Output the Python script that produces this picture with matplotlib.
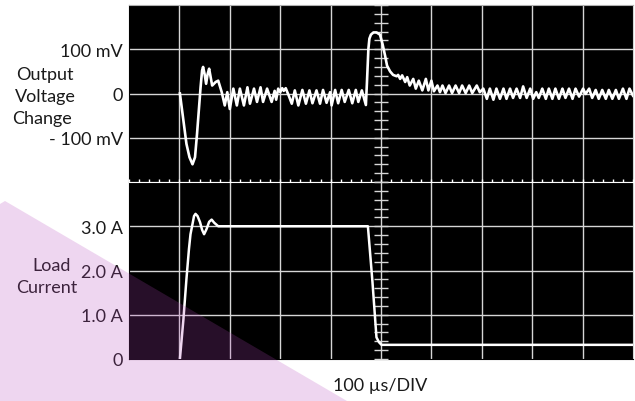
import numpy as np
import matplotlib
matplotlib.use('Agg')
import matplotlib.pyplot as plt
from matplotlib.patches import Polygon

plt.rcParams['font.family'] = ['Lato', 'DejaVu Sans']

# ---- data (time in us, 100 us/div) ----
# output voltage change, mV
t_v = [101, 108, 114, 120, 126, 131, 135, 139, 142, 145, 147, 150, 153, 156, 159, 162, 165,
       172, 177, 180, 184, 190, 195, 200, 207, 214, 220, 228, 235, 240, 248, 254, 261, 266, 274,
       283, 289, 292, 296, 300, 304, 307, 311, 317, 323, 329, 336, 344, 351, 358, 364, 372, 379,
       385, 392, 399, 402, 409, 415, 422, 428, 436, 443, 450, 455, 462, 470, 472, 475, 477, 480,
       485, 491, 498, 503, 508, 512, 518, 524, 531, 534, 538, 542, 548, 552, 557, 564, 569, 575,
       582, 589, 594, 600, 605, 612, 617, 622, 628, 635, 641, 648, 655, 661, 668, 675, 681, 690,
       696, 703, 710, 716, 723, 729, 736, 743, 749, 756, 762, 769, 776, 782, 789, 796, 802, 808,
       813, 820, 827, 833, 840, 846, 853, 860, 866, 873, 880, 886, 893, 901, 906, 913, 919, 926,
       932, 939, 946, 952, 959, 966, 972, 980, 987, 993, 1000]
v_mv = [0, -61, -114, -144, -160, -144, -91, -31, 14, 52, 60, 44, 22, 44, 56, 37, 18,
        26, 29, 18, 3, -27, 3, -35, 11, -27, 11, -27, 14, -23, 11, -19, 14, -19, 11,
        -19, 6, -14, 11, 3, 12, 6, 12, -5, -23, 7, -27, 8, -23, 7, -22, 7, -23,
        8, -21, 3, -27, 8, -22, 8, -19, 8, -22, 8, -19, 7, -26, 22, 101, 124, 133,
        138, 138, 133, 112, 86, 63, 50, 42, 39, 42, 33, 41, 26, 37, 18, 33, 11, 29,
        7, 33, 7, 29, 5, 18, 3, 18, 1, 18, 1, 18, 1, 18, 1, 18, 1, 18,
        3, 11, -12, 11, -14, 11, -12, 11, -12, 11, -10, 11, -10, 16, -10, 11, -12, 3,
        -10, 11, -12, 11, -12, 11, -12, 11, -10, 11, -12, 11, -7, 11, -1, 11, -10, 8,
        -12, 8, -12, 8, -12, 8, -12, 11, -12, 11, -5]

# load current, A
t_i = [101, 108, 114, 119, 122, 126, 129, 132, 136, 141, 145, 149, 154, 159, 164, 169, 177,
       474, 483, 491, 496, 501, 514, 1000]
i_a = [0, 0.9, 1.81, 2.49, 2.82, 3.05, 3.23, 3.28, 3.23, 3.09, 2.92, 2.82, 2.94, 3.1, 3.15, 3.08, 3.0,
       3.0, 1.75, 0.49, 0.38, 0.32, 0.32, 0.32]

x_grid = [100, 200, 300, 400, 500, 600, 700, 800, 900]
v_grid = [-100, 0, 100]
v_labels = ['- 100 mV', '0', '100 mV']
i_grid = [1, 2, 3]
i_ticks = [0, 1, 2, 3]
i_labels = ['0', '1.0 A', '2.0 A', '3.0 A']

GRID = '#d6d6d6'
TXT = '#1a1a1a'
W, H = 635, 402

fig = plt.figure(figsize=(W / 100, H / 100), dpi=100)
left, right = 129 / W, 633 / W
top, mid, bottom = 1 - 6 / H, 1 - 183 / H, 1 - 360 / H
ax_v = fig.add_axes([left, mid, right - left, top - mid])
ax_i = fig.add_axes([left, bottom, right - left, mid - bottom])

for ax in (ax_v, ax_i):
    ax.set_facecolor('black')
    ax.set_xlim(0, 1000)
    ax.set_xticks([])
    for x in x_grid:
        ax.axvline(x, color=GRID, lw=1.0, zorder=1)
    for s in ax.spines.values():
        s.set_color('black')
    ax.spines['right'].set_color(GRID)
    ax.tick_params(axis='y', length=0, pad=4.5, labelsize=13, labelcolor=TXT)

ax_v.set_ylim(-200, 200)
for y in v_grid:
    ax_v.axhline(y, color=GRID, lw=1.0, zorder=1)
ax_v.set_yticks(v_grid, v_labels)
ax_v.spines['top'].set_color('#b0b0b0')
ax_v.spines['bottom'].set_color('white')
ax_v.spines['bottom'].set_zorder(2)

ax_i.set_ylim(0, 4)
for y in i_grid:
    ax_i.axhline(y, color=GRID, lw=1.0, zorder=1)
ax_i.set_yticks(i_ticks, i_labels)
ax_i.spines['top'].set_color('white')

# small graduation marks on the centre cross
ax_v.plot(np.arange(0, 1001, 20), np.full(51, -200), ls='none', marker='|', ms=5,
          mew=1.0, color='white', clip_on=False, zorder=3)
ax_v.plot(np.full(21, 500), np.arange(-200, 201, 20), ls='none', marker='_', ms=9.5,
          mew=1.0, color=GRID, clip_on=False, zorder=3)
ax_i.plot(np.full(21, 500), np.arange(0, 4.01, 0.2), ls='none', marker='_', ms=9.5,
          mew=1.0, color=GRID, clip_on=False, zorder=3)

# traces
ax_v.plot(t_v, v_mv, color='white', lw=1.9, solid_joinstyle='round', zorder=4)
ax_i.plot(t_i, i_a, color='white', lw=1.8, solid_joinstyle='round', zorder=4)

# side labels
def ftext(x, y, s, **kw):
    fig.text(x / W, 1 - y / H, s, ha='center', va='center', fontsize=13, color=TXT, **kw)

ftext(45, 75, 'Output')
ftext(45, 97, 'Voltage')
ftext(42, 119, 'Change')
ftext(52, 266, 'Load')
ftext(47, 288, 'Current')
ftext(380, 386, '100 µs/DIV')

# pink decorative band over the lower left corner
band = Polygon([(0, 1 - 205 / H), (5 / W, 1 - 202 / H), (347 / W, 0), (0, 0)],
               closed=True, transform=fig.transFigure, facecolor=(182 / 255, 69 / 255, 187 / 255),
               alpha=0.22, edgecolor='none', zorder=10)
fig.patches.append(band)

fig.savefig('out.png', dpi=100, facecolor='white')
